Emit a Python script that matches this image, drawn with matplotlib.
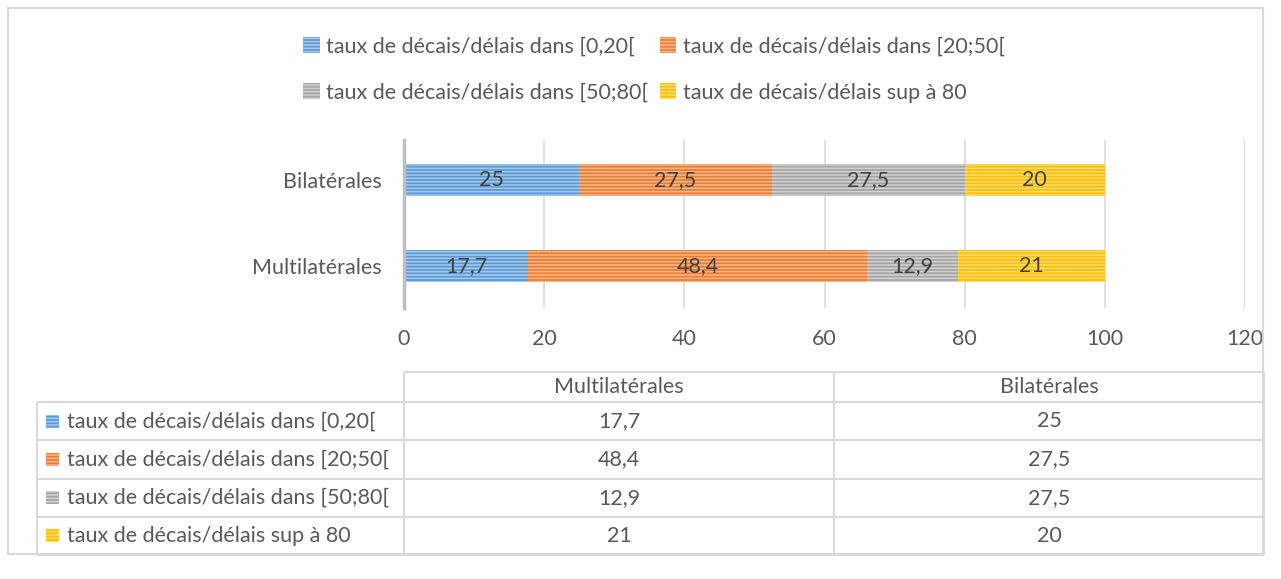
import numpy as np
import matplotlib.pyplot as plt
from matplotlib.patches import Rectangle

# Données
categories = ["Multilatérales", "Bilatérales"]
series = [
    "taux de décais/délais dans [0,20[",
    "taux de décais/délais dans [20;50[",
    "taux de décais/délais dans [50;80[",
    "taux de décais/délais sup à 80",
]
values = [
    [17.7, 25],
    [48.4, 27.5],
    [12.9, 27.5],
    [21, 20],
]
colors = ["#5B9BD5", "#ED7D31", "#A5A5A5", "#FFC000"]
stripes = ["#A9C9E9", "#F6B98F", "#D2D2D2", "#FFDC7A"]
xticks = [0, 20, 40, 60, 80, 100, 120]

txt = "#595959"
fs = 15.5
plt.rcParams["font.family"] = ["Lato", "DejaVu Sans"]
plt.rcParams["font.size"] = fs
plt.rcParams["hatch.linewidth"] = 1.1

W, H = 1281, 579
fig = plt.figure(figsize=(W / 100, H / 100), dpi=100)
fig.patches.append(Rectangle((8 / W, 1 - 554 / H), 1255 / W, 546 / H, transform=fig.transFigure,
                             fill=False, edgecolor="#D9D9D9", linewidth=1.5))


def fmt(v):
    return f"{v:g}".replace(".", ",")


# Graphique
ax = fig.add_axes([404 / W, 1 - 308 / H, 841 / W, 168 / H])
y = np.arange(len(categories))
left = np.zeros(len(categories))
handles = []
for s, vals, c, st in zip(series, values, colors, stripes):
    bars = ax.barh(y, vals, left=left, height=0.37, color=c, edgecolor=st,
                   linewidth=0, hatch="-----", label=s)
    ax.bar_label(bars, labels=[fmt(v) for v in vals], label_type="center",
                 color="#404040", fontsize=fs)
    left += np.array(vals)
    handles.append(bars)

ax.set_xlim(0, 120)
ax.set_ylim(-0.49, 1.46)
ax.set_xticks(xticks)
ax.set_yticks(y, categories)
ax.tick_params(length=0, colors=txt, labelsize=fs)
ax.tick_params(axis="x", pad=15)
ax.tick_params(axis="y", pad=16)
for sp in ["top", "right", "bottom"]:
    ax.spines[sp].set_visible(False)
ax.spines["left"].set_color("#BFBFBF")
ax.spines["left"].set_linewidth(2.5)
ax.xaxis.grid(True, color="#D9D9D9", linewidth=1.2)
ax.set_axisbelow(True)

order = [0, 2, 1, 3]
fig.legend([handles[i] for i in order], [series[i] for i in order],
           loc="upper center", bbox_to_anchor=(654 / W, 1 - 17 / H), ncol=2,
           frameon=False, handlelength=0.75, handleheight=0.75, handletextpad=0.3,
           columnspacing=0.55, labelspacing=1.22, labelcolor=txt, fontsize=fs)

# Tableau
tax = fig.add_axes([37 / W, 1 - 555 / H, 1227 / W, 183 / H])
tax.axis("off")
col_x = [0, 367 / 1227, 797 / 1227, 1.0]
top = 4 + 30 / 38
tax.set_xlim(0, 1)
tax.set_ylim(0, top)
lc = "#D9D9D9"
tax.hlines(top, col_x[1], 1, color=lc, lw=1.5, clip_on=False)
tax.hlines([0, 1, 2, 3, 4], 0, 1, color=lc, lw=1.5, clip_on=False)
tax.vlines(0, 0, 4, color=lc, lw=1.5, clip_on=False)
tax.vlines(col_x[1:], 0, top, color=lc, lw=1.5, clip_on=False)

for j, cat in enumerate(categories):
    xc = (col_x[j + 1] + col_x[j + 2]) / 2
    tax.text(xc, (4 + top) / 2, cat, ha="center", va="center", color=txt, fontsize=fs)
for i, (s, vals, c, st) in enumerate(zip(series, values, colors, stripes)):
    yc = 3.5 - i
    tax.add_patch(Rectangle((0.0075, yc - 0.17), 0.0108, 0.34, facecolor=c,
                            edgecolor=st, linewidth=0, hatch="-----"))
    tax.text(0.0245, yc, s, ha="left", va="center", color=txt, fontsize=fs)
    for j, v in enumerate(vals):
        xc = (col_x[j + 1] + col_x[j + 2]) / 2
        tax.text(xc, yc, fmt(v), ha="center", va="center", color=txt, fontsize=fs)

fig.savefig("out.png", dpi=100)
